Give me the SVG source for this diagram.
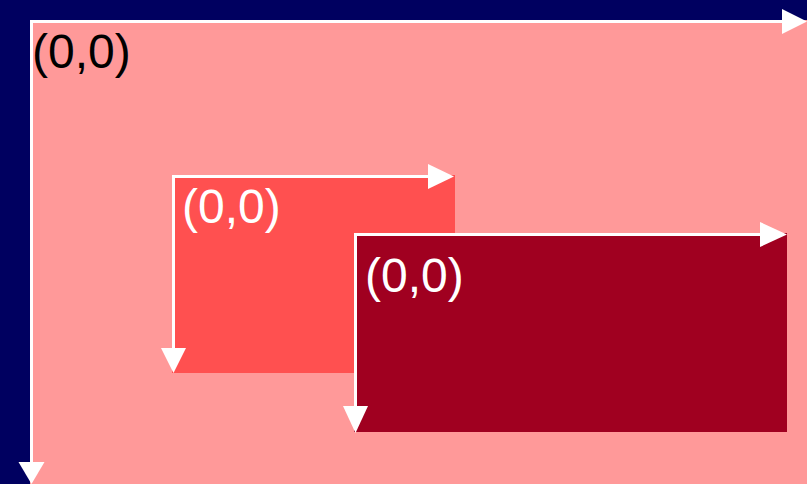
<svg xmlns="http://www.w3.org/2000/svg" width="807" height="484" viewBox="0 0 807 484">
  <defs>
    <style>
      .axis { stroke: #ffffff; stroke-width: 3; fill: none; }
      .head { fill: #ffffff; }
      .label { font-family: "Liberation Sans", Arial, sans-serif; font-size: 48px; }
    </style>
  </defs>
  <rect width="807" height="484" fill="#000060"/>

  <g id="outer">
    <rect x="30" y="20" width="777" height="464" fill="#ff9999"/>
    <text class="label" x="32" y="68" fill="#000000">(0,0)</text>
  </g>

  <g id="middle">
    <rect x="172" y="175" width="283" height="198" fill="#ff5050"/>
    <text class="label" x="182" y="223" fill="#ffffff">(0,0)</text>
  </g>

  <g id="inner">
    <rect x="354" y="233" width="433" height="199" fill="#a00020"/>
    <text class="label" x="365" y="292" fill="#ffffff">(0,0)</text>
  </g>

  <g id="connectors">
    <!-- outer axes -->
    <path class="axis" d="M782 21.5 H31.5 V462"/>
    <polygon class="head" points="782,9 807,21.5 782,34"/>
    <polygon class="head" points="18.5,462 44.5,462 31.5,484"/>
    <!-- middle axes -->
    <path class="axis" d="M428 176.5 H173.5 V348"/>
    <polygon class="head" points="428,164 454,176.5 428,189"/>
    <polygon class="head" points="161,348 186,348 173.5,373"/>
    <!-- inner axes -->
    <path class="axis" d="M760 234.5 H355.5 V406"/>
    <polygon class="head" points="760,222 787,234.5 760,247"/>
    <polygon class="head" points="343,406 368,406 355.5,433"/>
  </g>
</svg>
